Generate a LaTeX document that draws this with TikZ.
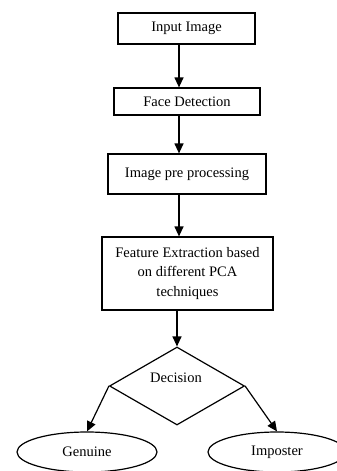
\documentclass[tikz,border=0pt]{standalone}
\usepackage{fontspec}
\setmainfont{Liberation Serif}
\usetikzlibrary{shapes.geometric,arrows.meta}
\begin{document}
\begin{tikzpicture}[x=1pt,y=-1pt,
  txt/.style={font=\fontsize{14.5}{19.5}\selectfont},
  box/.style={draw,line width=1.2pt,inner sep=0pt,align=center,txt},
  decbox/.style={draw,diamond,line width=1.2pt,inner sep=0pt,minimum width=135pt,minimum height=78pt},
  oval/.style={draw,ellipse,line width=1.2pt,inner sep=0pt,txt},
  arr/.style={line width=1.2pt,-{Triangle[length=10pt,width=9pt]}}
]
\clip (0,0) rectangle (337,471);
\useasboundingbox (0,0) rectangle (337,471);
\node[box,minimum width=137pt,minimum height=31pt] (b1) at (186.5,28.5) {Input Image};
\node[box,minimum width=146pt,minimum height=27pt] (b2) at (187,101.5) {Face Detection};
\node[box,minimum width=158pt,minimum height=40pt] (b3) at (187,174) {Image pre processing};
\node[box,minimum width=171pt,minimum height=73pt] (b4) at (187.5,273.5) {Feature Extraction based\\on different PCA\\techniques};
\node[decbox] (d) at (177,386) {};
\node[txt] (dt) at (176,378) {Decision};
\node[oval,minimum width=140pt,minimum height=40pt] (g) at (87,452) {Genuine};
\node[oval,minimum width=138pt,minimum height=40pt] (i) at (277,452) {Imposter};
\coordinate (ax) at (179,0);
\coordinate (bx) at (177,0);
\draw[arr] (b1.south -| ax) -- (b2.north -| ax);
\draw[arr] (b2.south -| ax) -- (b3.north -| ax);
\draw[arr] (b3.south -| ax) -- (b4.north -| ax);
\draw[arr] (b4.south -| bx) -- (d.north);
\draw[arr] (d.west) -- (g.north);
\draw[arr] (d.east) -- (i.north);
\end{tikzpicture}
\end{document}
